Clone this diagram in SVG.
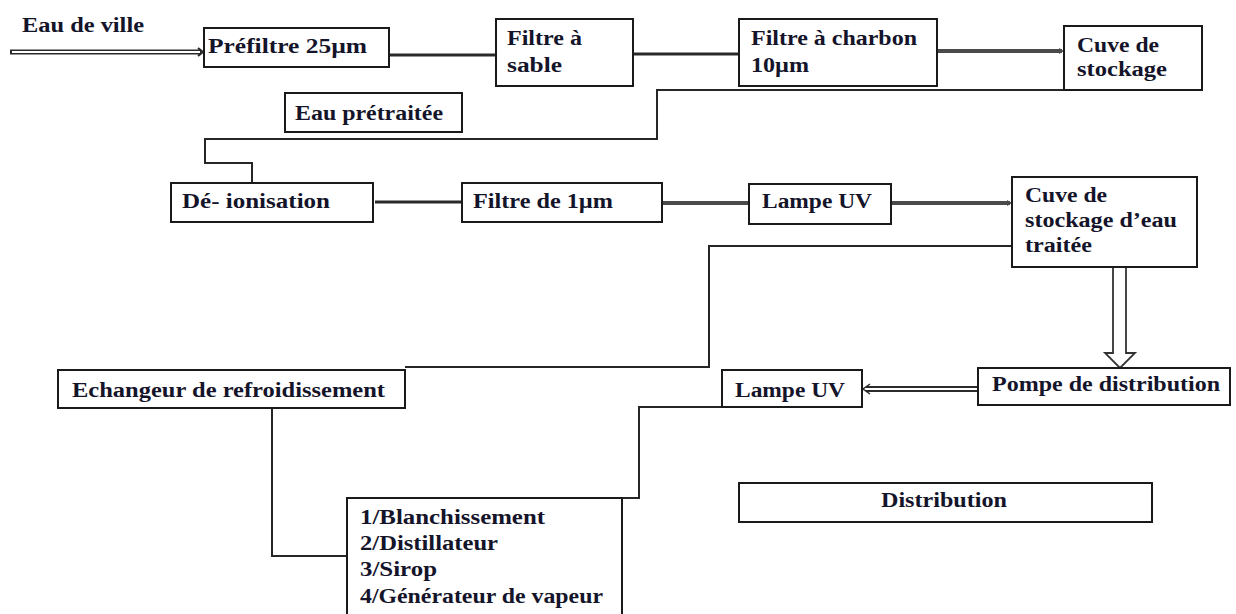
<svg xmlns="http://www.w3.org/2000/svg" width="1236" height="614" viewBox="0 0 1236 614">
  <style>
    .box { fill: #fff; stroke: #1a1a1a; stroke-width: 2; }
    .lbl { font-family: "Liberation Serif", "Times New Roman", serif; font-weight: bold; font-size: 20px; fill: #14142a; }
    .wire { fill: none; stroke: #262626; stroke-width: 2; }
    .bold { fill: none; stroke: #2a2a2a; stroke-width: 3; }
    .grey { fill: none; stroke: #4a4a4a; stroke-width: 4; }
    .dbl-out { fill: none; stroke: #2a2a2a; stroke-width: 5; }
    .dbl-in { fill: none; stroke: #fff; stroke-width: 2; }
  </style>

  <rect width="1236" height="614" fill="#fff"/>

  <!-- connectors -->
  <g id="connectors">
    <!-- city water inlet (double line) -->
    <line class="dbl-out" x1="10" y1="52" x2="201" y2="52"/>
    <line class="dbl-in" x1="12" y1="52" x2="200" y2="52"/>
    <path class="wire" d="M198,48 L203,52 L198,56" stroke-width="1.2"/>

    <line class="bold" x1="389" y1="55" x2="496" y2="55"/>
    <line class="bold" x1="633" y1="54" x2="739" y2="54"/>
    <line class="grey" x1="937" y1="51" x2="1062" y2="51"/>
    <path d="M1059,48 L1064,51 L1059,54" fill="#4a4a4a"/>

    <!-- storage tank to de-ionisation -->
    <path class="wire" d="M1064,90 H657 V139 H205 V163 H252 V183"/>

    <line class="bold" x1="375" y1="202" x2="462" y2="202"/>
    <line class="grey" x1="662" y1="203" x2="749" y2="203"/>
    <line class="grey" x1="891" y1="203" x2="1010" y2="203"/>
    <path d="M1007,200 L1012,203 L1007,206" fill="#4a4a4a"/>

    <!-- treated water tank to cooling exchanger -->
    <path class="wire" d="M1012,246 H709 V367 H405"/>

    <!-- exchanger to users -->
    <path class="wire" d="M272,408 V556 H347"/>

    <!-- treated water tank to distribution pump (hollow arrow) -->
    <path d="M1113,267 V353 H1105 L1120,368 L1135,353 H1126 V267" fill="#fff" stroke="#333" stroke-width="1.8"/>

    <!-- pump to UV lamp (double line) -->
    <line x1="866" y1="387" x2="978" y2="387" stroke="#2a2a2a" stroke-width="1.8"/>
    <line x1="866" y1="391" x2="978" y2="391" stroke="#2a2a2a" stroke-width="1.8"/>
    <path d="M870,384 L863,389 L870,394" fill="none" stroke="#2a2a2a" stroke-width="1.5"/>

    <!-- UV lamp to users -->
    <path class="wire" d="M722,407 H639 V498 H555"/>
  </g>

  <text class="lbl" x="22" y="32" textLength="122" lengthAdjust="spacingAndGlyphs">Eau de ville</text>

  <g id="prefiltre">
    <rect class="box" x="204" y="28" width="185" height="39"/>
    <text class="lbl" x="208" y="53" textLength="159" lengthAdjust="spacingAndGlyphs">Préfiltre 25µm</text>
  </g>

  <g id="filtre-sable">
    <rect class="box" x="496" y="19" width="137" height="67"/>
    <text class="lbl" x="507" y="45" textLength="75" lengthAdjust="spacingAndGlyphs">Filtre à</text>
    <text class="lbl" x="507" y="72" textLength="55" lengthAdjust="spacingAndGlyphs">sable</text>
  </g>

  <g id="filtre-charbon">
    <rect class="box" x="739" y="19" width="198" height="67"/>
    <text class="lbl" x="751" y="45" textLength="166" lengthAdjust="spacingAndGlyphs">Filtre à charbon</text>
    <text class="lbl" x="751" y="72" textLength="58" lengthAdjust="spacingAndGlyphs">10µm</text>
  </g>

  <g id="cuve-stockage">
    <rect class="box" x="1064" y="26" width="138" height="64"/>
    <text class="lbl" x="1077" y="52" textLength="82" lengthAdjust="spacingAndGlyphs">Cuve de</text>
    <text class="lbl" x="1077" y="76" textLength="90" lengthAdjust="spacingAndGlyphs">stockage</text>
  </g>

  <g id="eau-pretraitee">
    <rect class="box" x="285" y="93" width="177" height="39"/>
    <text class="lbl" x="295" y="120" textLength="148" lengthAdjust="spacingAndGlyphs">Eau prétraitée</text>
  </g>

  <g id="deionisation">
    <rect class="box" x="171" y="183" width="202" height="39"/>
    <text class="lbl" x="182" y="208" textLength="148" lengthAdjust="spacingAndGlyphs">Dé- ionisation</text>
  </g>

  <g id="filtre-1um">
    <rect class="box" x="462" y="183" width="200" height="39"/>
    <text class="lbl" x="473" y="208" textLength="140" lengthAdjust="spacingAndGlyphs">Filtre de 1µm</text>
  </g>

  <g id="lampe-uv-1">
    <rect class="box" x="749" y="184" width="142" height="40"/>
    <text class="lbl" x="762" y="208" textLength="110" lengthAdjust="spacingAndGlyphs">Lampe UV</text>
  </g>

  <g id="cuve-eau-traitee">
    <rect class="box" x="1012" y="177" width="185" height="90"/>
    <text class="lbl" x="1025" y="202" textLength="82" lengthAdjust="spacingAndGlyphs">Cuve de</text>
    <text class="lbl" x="1025" y="227" textLength="152" lengthAdjust="spacingAndGlyphs">stockage d’eau</text>
    <text class="lbl" x="1025" y="252" textLength="67" lengthAdjust="spacingAndGlyphs">traitée</text>
  </g>

  <g id="echangeur">
    <rect class="box" x="58" y="370" width="347" height="38"/>
    <text class="lbl" x="72" y="397" textLength="313" lengthAdjust="spacingAndGlyphs">Echangeur de refroidissement</text>
  </g>

  <g id="pompe">
    <rect class="box" x="978" y="368" width="252" height="37"/>
    <text class="lbl" x="992" y="391" textLength="228" lengthAdjust="spacingAndGlyphs">Pompe de distribution</text>
  </g>

  <g id="lampe-uv-2">
    <rect class="box" x="722" y="370" width="140" height="37"/>
    <text class="lbl" x="735" y="397" textLength="110" lengthAdjust="spacingAndGlyphs">Lampe UV</text>
  </g>

  <g id="utilisateurs">
    <rect class="box" x="347" y="498" width="275" height="130"/>
    <text class="lbl" x="360" y="524" textLength="185" lengthAdjust="spacingAndGlyphs">1/Blanchissement</text>
    <text class="lbl" x="360" y="550" textLength="138" lengthAdjust="spacingAndGlyphs">2/Distillateur</text>
    <text class="lbl" x="360" y="576" textLength="77" lengthAdjust="spacingAndGlyphs">3/Sirop</text>
    <text class="lbl" x="360" y="603" textLength="243" lengthAdjust="spacingAndGlyphs">4/Générateur de vapeur</text>
  </g>

  <g id="distribution">
    <rect class="box" x="739" y="483" width="413" height="39"/>
    <text class="lbl" x="881" y="507" textLength="126" lengthAdjust="spacingAndGlyphs">Distribution</text>
  </g>
</svg>
